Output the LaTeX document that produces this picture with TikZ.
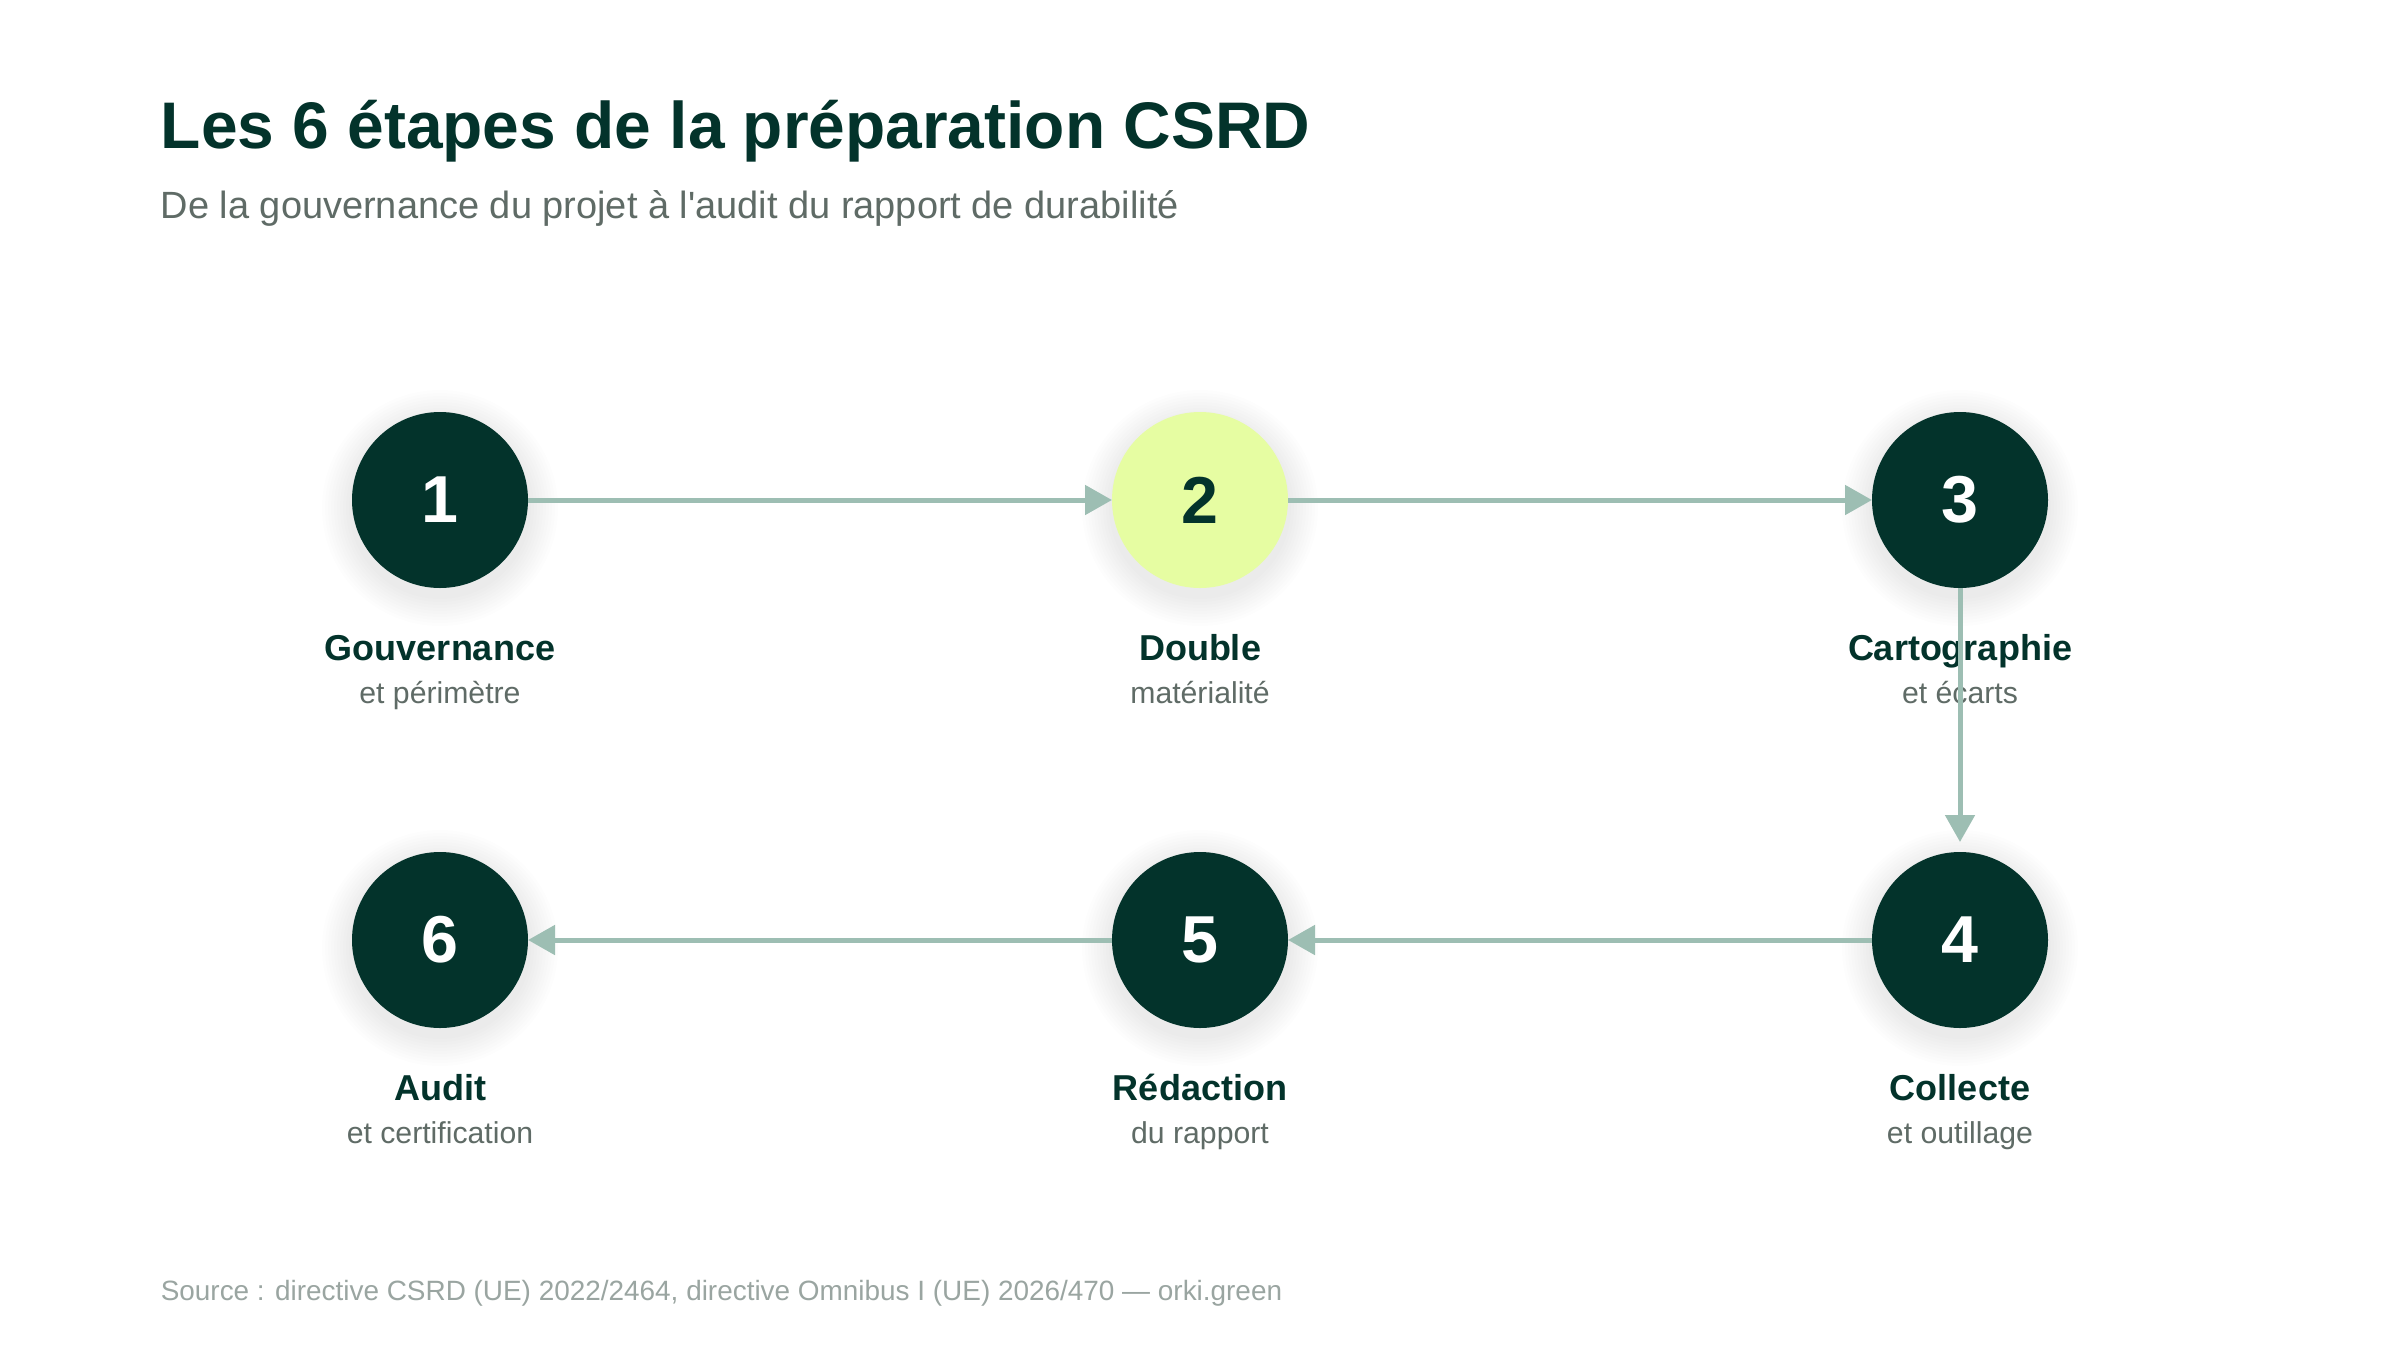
\documentclass[tikz,border=0pt]{standalone}
\usepackage{fontspec}
\setmainfont{Liberation Sans}
\usetikzlibrary{arrows.meta}
\definecolor{dkgreen}{RGB}{3,51,43}
\definecolor{lime}{RGB}{230,253,162}
\definecolor{arrowc}{RGB}{157,190,179}
\definecolor{subgray}{RGB}{95,107,102}
\definecolor{srcgray}{RGB}{154,165,161}
\tikzset{
  stepcircle/.style={circle, minimum size=44pt, inner sep=0pt, outer sep=0pt,
    fill=dkgreen, text=white, font=\fontsize{16.6}{18}\selectfont\bfseries},
  limecircle/.style={stepcircle, fill=lime, text=dkgreen},
  steplabel/.style={anchor=base, inner sep=0pt, text=dkgreen, font=\fontsize{9}{11}\selectfont\bfseries},
  stepsub/.style={anchor=base, inner sep=0pt, text=subgray, font=\fontsize{7.55}{9}\selectfont},
  arr/.style={draw=arrowc, line width=1.25pt, -{Triangle[length=6.75pt, width=7.25pt]}},
}
\begin{document}
\begin{tikzpicture}[x=0.25pt, y=-0.25pt]
\useasboundingbox[fill=white] (0,0) rectangle (2400,1350);
% title
\node[anchor=base west, inner sep=0pt, text=dkgreen, font=\fontsize{16.47}{19}\selectfont\bfseries] (title) at (160,148) {Les 6 étapes de la préparation CSRD};
\node[anchor=base west, inner sep=0pt, text=subgray, font=\fontsize{9.49}{11}\selectfont] (subtitle) at (160,218) {De la gouvernance du projet à l\textquotesingle audit du rapport de durabilité};
\node[anchor=base west, inner sep=0pt, text=srcgray, font=\fontsize{6.98}{9}\selectfont] (source) at (160,1300) {Source : directive CSRD (UE) 2022/2464, directive Omnibus I (UE) 2026/470 — orki.green};
% shadows
\foreach \cx/\cy in {440/500,1200/500,1960/500,440/940,1200/940,1960/940}{
  \foreach \r in {1,...,10}{
    \fill[black, opacity=0.008] (\cx,\cy+8) circle[radius=88+3*\r];
  }
}
% circles
\node[stepcircle] (c1) at (440,500) {1};
\node[limecircle] (c2) at (1200,500) {2};
\node[stepcircle] (c3) at (1960,500) {3};
\node[stepcircle] (c4) at (1960,940) {4};
\node[stepcircle] (c5) at (1200,940) {5};
\node[stepcircle] (c6) at (440,940) {6};
% labels
\node[steplabel] (l1) at (440,660) {Gouvernance};
\node[stepsub] (s1) at (440,703) {et périmètre};
\node[steplabel] (l2) at (1200,660) {Double};
\node[stepsub] (s2) at (1200,703) {matérialité};
\node[steplabel] (l3) at (1960,660) {Cartographie};
\node[stepsub] (s3) at (1960,703) {et écarts};
\node[steplabel] (l4) at (1960,1100) {Collecte};
\node[stepsub] (s4) at (1960,1143) {et outillage};
\node[steplabel] (l5) at (1200,1100) {Rédaction};
\node[stepsub] (s5) at (1200,1143) {du rapport};
\node[steplabel] (l6) at (440,1100) {Audit};
\node[stepsub] (s6) at (440,1143) {et certification};
% arrows
\draw[arr] (c1) -- (c2);
\draw[arr] (c2) -- (c3);
\draw[arr, shorten >=2.5pt] (c3) -- (c4);
\draw[arr] (c4) -- (c5);
\draw[arr] (c5) -- (c6);
\end{tikzpicture}
\end{document}
